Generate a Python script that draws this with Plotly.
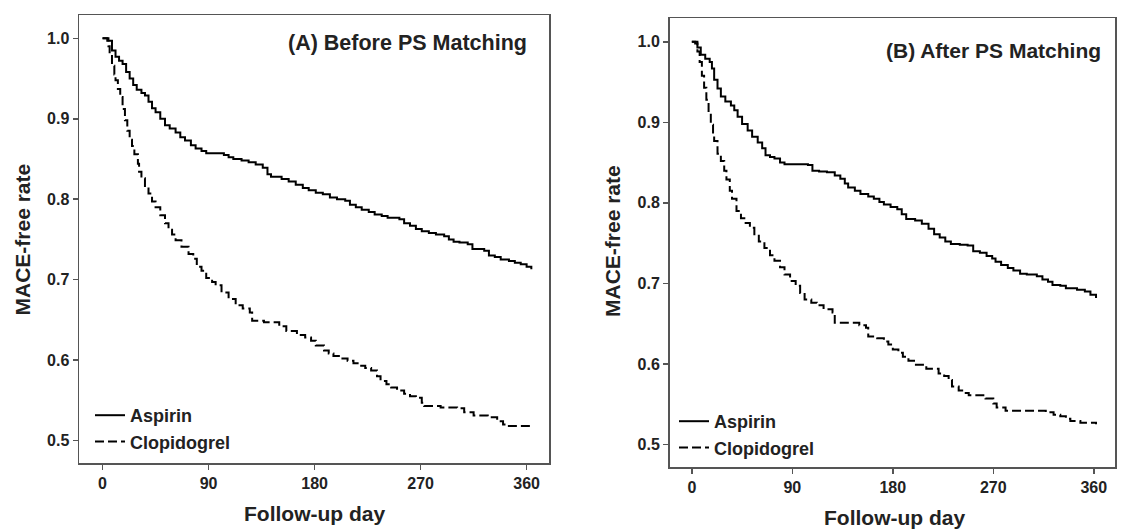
import plotly.graph_objects as go

# ---------------- data ----------------
tick_days = [0, 90, 180, 270, 360]
tick_rates = [0.5, 0.6, 0.7, 0.8, 0.9, 1.0]
series_names = ["Aspirin", "Clopidogrel"]
panel_titles = ["(A) Before PS Matching", "(B) After PS Matching"]
x_title = "Follow-up day"
y_title = "MACE-free rate"

aspirin_a_day = [0, 4, 8, 11, 14, 17, 20, 23, 26, 29, 33, 36, 39, 42, 45, 49, 53, 57, 62, 66, 70, 75, 79, 84, 88,
                 103, 107, 111, 118, 124, 130, 136, 140, 143, 152, 158, 164, 170, 175, 181, 187, 193, 199, 206,
                 210, 215, 220, 226, 231, 237, 242, 252, 256, 261, 266, 271, 277, 283, 290, 294, 298, 303, 310,
                 314, 324, 328, 333, 338, 345, 350, 355, 360, 364]
aspirin_a_rate = [1.0, 0.997, 0.985, 0.977, 0.972, 0.968, 0.958, 0.950, 0.942, 0.936, 0.932, 0.929, 0.921, 0.913,
                  0.908, 0.900, 0.892, 0.888, 0.883, 0.877, 0.873, 0.867, 0.863, 0.860, 0.857,
                  0.855, 0.852, 0.850, 0.848, 0.846, 0.843, 0.839, 0.831, 0.828, 0.825, 0.822, 0.818, 0.814,
                  0.811, 0.808, 0.806, 0.802, 0.800, 0.798, 0.793, 0.790, 0.787, 0.784, 0.781, 0.779, 0.777,
                  0.775, 0.770, 0.767, 0.763, 0.760, 0.758, 0.756, 0.754, 0.750, 0.747, 0.746, 0.744, 0.738,
                  0.736, 0.730, 0.728, 0.725, 0.723, 0.721, 0.719, 0.716, 0.713]

clopi_a_day = [0, 5, 6, 8, 10, 11, 13, 15, 17, 19, 21, 23, 25, 27, 30, 31, 33, 36, 39, 42, 45, 49, 53, 56, 59, 62,
               67, 73, 77, 80, 84, 88, 93, 96, 101, 107, 113, 119, 125, 127, 137, 150, 156, 165, 172, 177, 181,
               188, 192, 196, 202, 208, 213, 218, 223, 228, 233, 236, 241, 245, 250, 256, 261, 266, 271, 273,
               287, 301, 307, 315, 327, 335, 340, 344, 363]
clopi_a_rate = [1.0, 0.990, 0.980, 0.966, 0.955, 0.948, 0.937, 0.927, 0.912, 0.898, 0.885, 0.874, 0.866, 0.856,
                0.844, 0.834, 0.826, 0.815, 0.807, 0.797, 0.790, 0.780, 0.770, 0.762, 0.756, 0.749, 0.741, 0.732,
                0.726, 0.716, 0.711, 0.702, 0.697, 0.693, 0.684, 0.676, 0.668, 0.664, 0.659, 0.649, 0.647, 0.642,
                0.636, 0.631, 0.628, 0.624, 0.618, 0.612, 0.608, 0.605, 0.602, 0.599, 0.596, 0.593, 0.590, 0.587,
                0.580, 0.574, 0.570, 0.566, 0.562, 0.558, 0.555, 0.553, 0.547, 0.543, 0.541, 0.540, 0.535, 0.531,
                0.529, 0.524, 0.520, 0.518, 0.516]

aspirin_b_day = [0, 3, 5, 8, 12, 16, 18, 20, 23, 26, 30, 35, 38, 41, 45, 50, 54, 59, 63, 66, 70, 74, 79, 83, 104,
                 108, 114, 121, 128, 133, 137, 140, 146, 151, 158, 163, 168, 172, 178, 184, 188, 192, 200, 206,
                 212, 217, 222, 227, 232, 240, 247, 252, 258, 264, 269, 272, 277, 283, 288, 294, 300, 309, 314,
                 319, 323, 330, 335, 345, 352, 357, 362]
aspirin_b_rate = [1.0, 0.998, 0.993, 0.984, 0.979, 0.975, 0.967, 0.953, 0.942, 0.932, 0.926, 0.921, 0.915, 0.907,
                  0.898, 0.890, 0.882, 0.875, 0.868, 0.859, 0.857, 0.855, 0.850, 0.848, 0.847, 0.840, 0.839,
                  0.838, 0.834, 0.830, 0.824, 0.819, 0.815, 0.811, 0.808, 0.805, 0.801, 0.798, 0.795, 0.792,
                  0.786, 0.780, 0.778, 0.774, 0.768, 0.761, 0.757, 0.752, 0.749, 0.748, 0.747, 0.740, 0.738,
                  0.734, 0.731, 0.727, 0.723, 0.719, 0.716, 0.712, 0.711, 0.709, 0.705, 0.702, 0.698, 0.697,
                  0.694, 0.692, 0.690, 0.686, 0.682]

clopi_b_day = [0, 5, 7, 9, 11, 13, 15, 17, 19, 20, 23, 26, 29, 31, 34, 36, 40, 44, 47, 52, 56, 60, 65, 70, 74, 79,
               83, 88, 93, 97, 101, 107, 112, 118, 126, 128, 150, 156, 158, 166, 172, 176, 180, 185, 189, 194, 199,
               210, 221, 226, 230, 233, 239, 244, 248, 263, 270, 273, 281, 317, 324, 330, 335, 339, 348, 362]
clopi_b_rate = [1.0, 0.988, 0.975, 0.958, 0.943, 0.928, 0.912, 0.897, 0.884, 0.877, 0.861, 0.852, 0.840, 0.829,
                0.815, 0.805, 0.790, 0.781, 0.775, 0.769, 0.761, 0.752, 0.744, 0.735, 0.728, 0.720, 0.711, 0.703,
                0.697, 0.688, 0.680, 0.676, 0.673, 0.668, 0.664, 0.651, 0.648, 0.645, 0.634, 0.632, 0.628, 0.624,
                0.618, 0.614, 0.609, 0.604, 0.599, 0.594, 0.588, 0.585, 0.580, 0.572, 0.567, 0.564, 0.561, 0.557,
                0.551, 0.546, 0.542, 0.540, 0.537, 0.535, 0.532, 0.529, 0.527, 0.525]

# ---------------- figure ----------------
W, H = 1122, 532
FONT = "Liberation Sans, Arial, sans-serif"
AX = "#555555"
TXT = "#222222"

fig = go.Figure()

panels = [
    dict(xa="x", ya="y", leg="legend", data=[(aspirin_a_day, aspirin_a_rate), (clopi_a_day, clopi_a_rate)]),
    dict(xa="x2", ya="y2", leg="legend2", data=[(aspirin_b_day, aspirin_b_rate), (clopi_b_day, clopi_b_rate)]),
]
for p in panels:
    for i, (d, r) in enumerate(p["data"]):
        fig.add_trace(go.Scatter(
            x=d, y=r, mode="lines", name=series_names[i],
            line=dict(color="black", width=2, shape="hv", dash="solid" if i == 0 else "9px,4px"),
            xaxis=p["xa"], yaxis=p["ya"], legend=p["leg"], showlegend=True,
        ))


def px(v):
    return v / W


def py(v):
    return 1 - v / H


axis_common = dict(
    showline=True, mirror=True, linecolor=AX, linewidth=1.5,
    ticks="outside", ticklen=5, tickwidth=1.5, tickcolor=AX,
    showgrid=False, zeroline=False,
    tickfont=dict(family=FONT, size=16, color=TXT, weight="bold"),
)

legend_common = dict(xanchor="left", yanchor="top", bgcolor="rgba(0,0,0,0)",
                     font=dict(family=FONT, size=18, color=TXT, weight="bold"), tracegroupgap=0)

fig.update_layout(
    width=W, height=H,
    margin=dict(l=0, r=0, t=0, b=0),
    paper_bgcolor="white", plot_bgcolor="white",
    font=dict(family=FONT, color=TXT),
    xaxis=dict(domain=[px(79), px(549)], range=[-20, 379], tickvals=tick_days, anchor="y", **axis_common),
    yaxis=dict(domain=[py(463), py(15)], range=[0.472, 1.029], tickvals=tick_rates, tickformat=".1f",
               anchor="x", **axis_common),
    xaxis2=dict(domain=[px(669.5), px(1115)], range=[-20, 379], tickvals=tick_days, anchor="y2", **axis_common),
    yaxis2=dict(domain=[py(467), py(18)], range=[0.472, 1.0296], tickvals=tick_rates, tickformat=".1f",
                anchor="x2", **axis_common),
    legend=dict(x=px(90), y=py(397), **legend_common),
    legend2=dict(x=px(674), y=py(403), **legend_common),
)

annotations = [
    dict(text="<b>" + panel_titles[0] + "</b>", x=px(529), y=py(43.5), xanchor="right", yanchor="middle", size=21.5),
    dict(text="<b>" + panel_titles[1] + "</b>", x=px(1103), y=py(51), xanchor="right", yanchor="middle", size=21),
    dict(text="<b>" + x_title + "</b>", x=px(314), y=py(513), xanchor="center", yanchor="middle", size=21),
    dict(text="<b>" + x_title + "</b>", x=px(894), y=py(517), xanchor="center", yanchor="middle", size=21),
    dict(text="<b>" + y_title + "</b>", x=px(21.5), y=py(240), xanchor="center", yanchor="middle", textangle=-90,
         size=21),
    dict(text="<b>" + y_title + "</b>", x=px(613), y=py(241), xanchor="center", yanchor="middle", textangle=-90,
         size=21),
]
for a in annotations:
    s = a.pop("size")
    a.update(xref="paper", yref="paper", showarrow=False, font=dict(family=FONT, size=s, color=TXT))
fig.update_layout(annotations=annotations)

# remove the default page margin so the figure fills the 1122x532 window exactly
fig.write_html("out.html",
               config={"displayModeBar": False, "staticPlot": True},
               post_script="document.body.style.margin='0px';document.body.style.overflow='hidden';")
